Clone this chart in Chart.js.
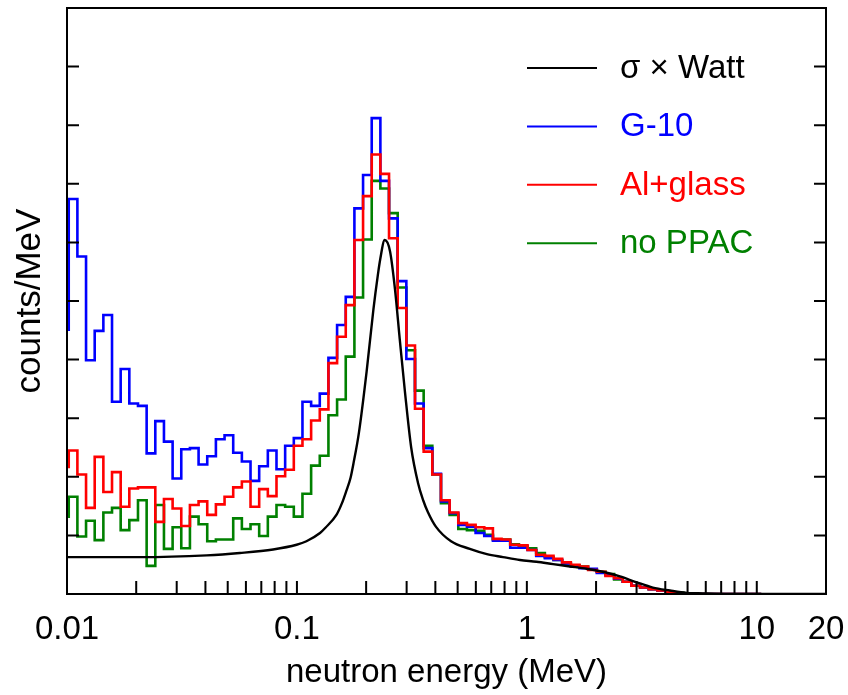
<!DOCTYPE html>
<html lang="en">
<head>
  <meta charset="UTF-8">
  <title>neutron energy spectra</title>
  <style>
    body {
      margin: 0;
      padding: 0;
      background: #fff;
    }
    canvas {
      display: block;
    }
  </style>
</head>
<body>
<canvas id="spectrum" width="848" height="695"></canvas>

<script src="https://cdn.jsdelivr.net/npm/chart.js"></script>
<script>
  // histogram binning: log-uniform bins, first (partly hidden) bin starts just below 0.01 MeV
  const firstBinEdge = 0.00933;
  const binWidthDecades = 0.03765;

  // bin contents (arbitrary units, axis 0..10)
  const g10 = [2.88,
    4.51, 6.74, 5.76, 3.99, 4.49, 4.76, 3.28, 3.84, 3.25, 3.21,
    2.40, 2.95, 2.60, 1.97, 2.47, 2.49, 2.21, 2.35, 2.64, 2.71,
    2.41, 2.26, 1.93, 2.18, 2.45, 2.13, 2.53, 2.66, 3.28, 3.21,
    3.42, 4.03, 4.59, 5.07, 6.58, 7.15, 8.12, 7.05, 6.41, 5.34,
    4.01, 3.25, 2.49, 2.05, 1.58, 1.38, 1.18, 1.15, 1.04, 0.99,
    0.91, 0.91, 0.79, 0.79, 0.75, 0.65, 0.61, 0.58, 0.52, 0.47,
    0.44, 0.43, 0.36, 0.32, 0.26, 0.21, 0.14, 0.11, 0.08, 0.06,
    0.03, 0.01, 0.01, 0, 0, 0, 0, 0, 0, 0];

  const alGlass = [1.52,
    2.17, 2.45, 2.04, 1.47, 2.34, 1.74, 2.08, 1.49, 1.80, 1.82,
    1.82, 1.23, 1.62, 1.46, 1.16, 1.52, 1.58, 1.35, 1.53, 1.66,
    1.82, 1.92, 1.49, 1.79, 1.67, 2.01, 2.12, 2.53, 2.64, 2.96,
    3.15, 3.94, 4.39, 4.93, 6.04, 6.79, 7.50, 7.17, 6.07, 4.88,
    4.24, 3.16, 2.43, 2.04, 1.60, 1.39, 1.21, 1.18, 1.14, 1.12,
    0.94, 0.93, 0.84, 0.83, 0.75, 0.67, 0.65, 0.60, 0.54, 0.50,
    0.47, 0.41, 0.38, 0.31, 0.27, 0.21, 0.14, 0.11, 0.08, 0.06,
    0.03, 0.01, 0, 0, 0, 0, 0, 0, 0, 0];

  const noPpac = [0.35,
    1.32, 1.66, 0.98, 1.25, 0.92, 1.39, 1.47, 1.09, 1.26, 1.60,
    0.48, 1.52, 0.77, 1.14, 0.78, 1.32, 1.19, 0.90, 0.93, 0.93,
    1.29, 1.11, 1.19, 0.99, 1.32, 1.52, 1.49, 1.32, 1.71, 2.19,
    2.36, 3.05, 3.32, 4.05, 5.06, 6.05, 7.05, 6.92, 6.50, 5.23,
    4.16, 3.47, 2.53, 2.04, 1.55, 1.35, 1.11, 1.09, 1.08, 1.01,
    0.93, 0.93, 0.85, 0.82, 0.78, 0.70, 0.63, 0.58, 0.52, 0.49,
    0.47, 0.42, 0.38, 0.34, 0.25, 0.21, 0.14, 0.11, 0.08, 0.06,
    0.03, 0.02, 0.01, 0, 0, 0, 0, 0, 0, 0];

  // sigma x Watt curve
  const wattEnergy = [0.01, 0.0208, 0.0405, 0.0565, 0.0788, 0.0997, 0.110, 0.126, 0.133, 0.149,
    0.157, 0.164, 0.171, 0.176, 0.186, 0.201, 0.215, 0.225, 0.230, 0.241,
    0.254, 0.267, 0.280, 0.295, 0.314, 0.336, 0.354, 0.371, 0.402, 0.468,
    0.565, 0.670, 0.787, 0.933, 1.10, 1.30, 1.54, 1.82, 2.14, 2.54,
    3.00, 3.53, 4.19, 4.96, 5.82, 7.64, 20];
  const wattValue = [0.63, 0.63, 0.66, 0.70, 0.76, 0.84, 0.90, 1.04, 1.13, 1.36,
    1.55, 1.76, 1.98, 2.22, 2.75, 3.80, 4.85, 5.45, 5.70, 6.04,
    5.85, 5.20, 4.35, 3.45, 2.50, 1.90, 1.60, 1.40, 1.15, 0.90,
    0.77, 0.68, 0.63, 0.58, 0.55, 0.51, 0.47, 0.43, 0.38, 0.30,
    0.20, 0.11, 0.06, 0.02, 0.01, 0, 0];

  const seriesLabels = ['\u03c3 \u00d7 Watt', 'G-10', 'Al+glass', 'no PPAC'];
  const seriesColors = ['#000000', '#0000ff', '#ff0000', '#008000'];

  // x axis ticks (MeV); only some carry a label
  const xTickValues = [0.01, 0.02, 0.03, 0.04, 0.05, 0.06, 0.07, 0.08, 0.09,
    0.1, 0.2, 0.3, 0.4, 0.5, 0.6, 0.7, 0.8, 0.9,
    1, 2, 3, 4, 5, 6, 7, 8, 9, 10, 20];
  const xLabelValues = [0.01, 0.1, 1, 10, 20];
  const xLabelTexts = ['0.01', '0.1', '1', '10', '20'];

  const FONT = "'Liberation Sans', Arial, sans-serif";

  // turn bin contents into step points (left edge of each bin + closing edge)
  function histPoints(values) {
    const pts = [];
    const lo = Math.log10(firstBinEdge);
    for (let i = 0; i <= values.length; i++) {
      const x = Math.pow(10, lo + i * binWidthDecades);
      const y = i < values.length ? values[i] : 0;
      pts.push({ x: x, y: y });
    }
    return pts;
  }

  const wattPoints = wattEnergy.map((e, i) => ({ x: e, y: wattValue[i] }));

  // frame, inward tick marks and the legend inside the plot
  const frameAndLegend = {
    id: 'frameAndLegend',
    afterDatasetsDraw(chart) {
      const { ctx, chartArea: a, scales: { x, y } } = chart;
      ctx.save();
      ctx.strokeStyle = '#000';
      ctx.lineWidth = 2;
      ctx.beginPath();
      x.ticks.forEach(t => {
        const px = x.getPixelForValue(t.value);
        if (px > a.left + 2 && px < a.right - 2) {
          ctx.moveTo(px, a.bottom);
          ctx.lineTo(px, a.bottom - 13);
        }
      });
      y.ticks.forEach(t => {
        const py = y.getPixelForValue(t.value);
        if (py > a.top + 2 && py < a.bottom - 2) {
          ctx.moveTo(a.left, py);
          ctx.lineTo(a.left + 12, py);
          ctx.moveTo(a.right, py);
          ctx.lineTo(a.right - 12, py);
        }
      });
      ctx.stroke();
      ctx.strokeRect(a.left, a.top, a.right - a.left, a.bottom - a.top);

      // legend
      ctx.font = '33px ' + FONT;
      ctx.textBaseline = 'middle';
      ctx.textAlign = 'left';
      seriesLabels.forEach((lab, i) => {
        const ly = a.top + 60 + i * 58.4;
        ctx.strokeStyle = seriesColors[i];
        ctx.lineWidth = 2;
        ctx.beginPath();
        ctx.moveTo(a.left + 460, ly);
        ctx.lineTo(a.left + 530, ly);
        ctx.stroke();
        ctx.fillStyle = seriesColors[i];
        ctx.fillText(lab, a.left + 553, ly + 1);
      });
      ctx.restore();
    }
  };

  const ctx = document.getElementById('spectrum').getContext('2d');
  new Chart(ctx, {
    type: 'line',
    data: {
      datasets: [
        {
          label: seriesLabels[0], data: wattPoints, borderColor: seriesColors[0],
          borderWidth: 2.4, pointRadius: 0, cubicInterpolationMode: 'monotone', order: 0
        },
        {
          label: seriesLabels[1], data: histPoints(g10), borderColor: seriesColors[1],
          borderWidth: 2.6, pointRadius: 0, stepped: 'after', order: 2
        },
        {
          label: seriesLabels[2], data: histPoints(alGlass), borderColor: seriesColors[2],
          borderWidth: 2.6, pointRadius: 0, stepped: 'after', order: 1
        },
        {
          label: seriesLabels[3], data: histPoints(noPpac), borderColor: seriesColors[3],
          borderWidth: 2.6, pointRadius: 0, stepped: 'after', order: 3
        }
      ]
    },
    options: {
      responsive: false,
      animation: false,
      layout: { padding: { top: 8, right: 22, left: 0, bottom: 0 } },
      plugins: {
        legend: { display: false },
        tooltip: { enabled: false }
      },
      scales: {
        x: {
          type: 'logarithmic',
          min: 0.01,
          max: 20,
          afterBuildTicks: s => { s.ticks = xTickValues.map(v => ({ value: v })); },
          afterFit: s => {
            s.height = 101;
            s.paddingLeft = 0;
            s.paddingRight = 0;
          },
          grid: { display: false, drawTicks: false },
          border: { display: false },
          ticks: {
            autoSkip: false,
            maxRotation: 0,
            padding: 16,
            color: '#000',
            font: { family: FONT, size: 33 },
            callback: v => {
              const i = xLabelValues.indexOf(v);
              return i >= 0 ? xLabelTexts[i] : '';
            }
          },
          title: {
            display: true,
            text: 'neutron energy (MeV)',
            color: '#000',
            font: { family: FONT, size: 33 },
            padding: { top: 0, bottom: 2 }
          }
        },
        y: {
          min: 0,
          max: 10,
          ticks: { display: false, stepSize: 1 },
          grid: { display: false, drawTicks: false },
          border: { display: false },
          afterFit: s => { s.width = 67; },
          title: {
            display: true,
            text: 'counts/MeV',
            color: '#000',
            font: { family: FONT, size: 35 },
            padding: { top: 9, bottom: 0 }
          }
        }
      }
    },
    plugins: [frameAndLegend]
  });
</script>
</body>
</html>
